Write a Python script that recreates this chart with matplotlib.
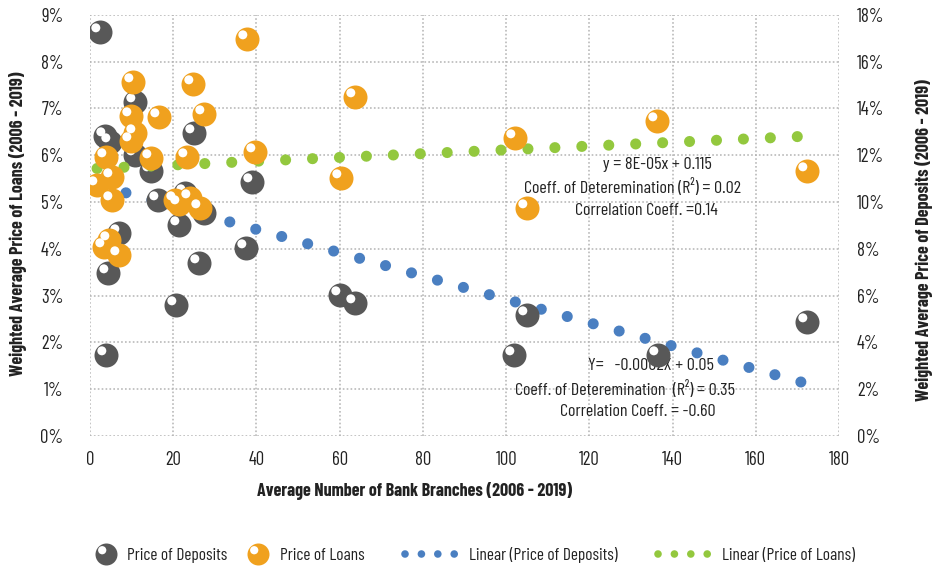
import numpy as np
import matplotlib
matplotlib.use("Agg")
import matplotlib.pyplot as plt
from matplotlib.path import Path
from matplotlib.lines import Line2D
from matplotlib.legend_handler import HandlerTuple
from matplotlib.ticker import FuncFormatter, MultipleLocator

# ------------------------------------------------------------------
# data
# ------------------------------------------------------------------
# Price of Deposits (left axis, %)
dep_x = [2.4, 10.7, 3.7, 4.9, 24.9, 10.9, 14.7, 38.9, 16.3, 22.9, 27.3, 21.3,
         6.9, 4.3, 26.1, 37.5, 20.6, 3.8, 60.2, 63.7, 104.9, 102.0, 136.4, 172.2]
dep_y = [8.64, 7.14, 6.41, 6.29, 6.48, 6.00, 5.67, 5.43, 5.04, 5.19, 4.76, 4.51,
         4.34, 3.49, 3.70, 4.01, 2.80, 1.72, 3.01, 2.85, 2.59, 1.73, 1.73, 2.44]

# Price of Loans (right axis, %)
loan_x = [37.7, 10.4, 24.8, 9.9, 16.5, 27.3, 10.7, 9.9, 3.8, 14.7, 23.3, 39.7,
          5.4, 1.7, 5.4, 20.5, 21.5, 24.1, 26.5, 4.5, 3.3, 7.0, 63.7, 102.1,
          60.3, 104.9, 136.2, 172.2]
loan_y = [16.97, 15.14, 15.04, 13.68, 13.64, 13.76, 12.94, 12.62, 11.94, 11.87,
          11.94, 12.15, 11.08, 10.73, 10.09, 10.09, 9.90, 10.16, 9.76, 8.38,
          8.09, 7.74, 14.47, 12.72, 11.01, 9.73, 13.47, 11.34]

# linear trendlines (end points as drawn in the reference)
dep_trend_x = [2.4, 172.2]
dep_trend_y = [5.35, 1.12]
loan_trend_x = [1.7, 172.2]
loan_trend_y = [11.43, 12.81]

# ------------------------------------------------------------------
# style
# ------------------------------------------------------------------
W, H, DPI = 939, 568, 100
plt.rcParams['font.family'] = ['Barlow Condensed', 'DejaVu Sans']
plt.rcParams['lines.scale_dashes'] = False

GREY = '#585858'
ORANGE = '#F0A11E'
BLUE = '#4A7FC1'
GREEN = '#93C83E'
TXT = '#222222'
GRID = '#b4b4b4'

# white highlight drawn as an off-centre marker of the same size as the ball
_c = Path.circle(center=(-0.39, 0.39), radius=0.375)
SHINE = Path(np.vstack([_c.vertices, [[1.0, 1.0]]]), np.append(_c.codes, Path.MOVETO))

BALL_S = (24 * 72 / DPI) ** 2


def px_x(x):
    return x / W


def px_y(y):
    return 1 - y / H


fig = plt.figure(figsize=(W / DPI, H / DPI), dpi=DPI)
ax = fig.add_axes([px_x(90), px_y(436), (839 - 90) / W, (436 - 14.7) / H])
ax2 = ax.twinx()

# grid
ax.set_xlim(0, 180)
ax.set_ylim(0, 9)
ax2.set_ylim(0, 18)
ax.xaxis.set_major_locator(MultipleLocator(20))
ax.yaxis.set_major_locator(MultipleLocator(1))
ax2.yaxis.set_major_locator(MultipleLocator(2))
ax.grid(True, color=GRID, linestyle=(0, (1.2, 1.6)), linewidth=1.1, zorder=0)
ax.set_axisbelow(True)
for a in (ax, ax2):
    for s in a.spines.values():
        s.set_visible(False)

# trendlines (round dots)
ax.plot(dep_trend_x, dep_trend_y, color=BLUE, lw=8, linestyle=(0, (0.01, 19.4)),
        dash_capstyle='round', zorder=2)
ax2.plot(loan_trend_x, loan_trend_y, color=GREEN, lw=8, linestyle=(0, (0.01, 19.4)),
         dash_capstyle='round', zorder=2)

# spheres
ax.scatter(dep_x, dep_y, s=BALL_S, color=GREY, linewidths=0, zorder=3)
ax.scatter(dep_x, dep_y, s=BALL_S, marker=SHINE, color='white', linewidths=0, zorder=3)
ax2.scatter(loan_x, loan_y, s=BALL_S, color=ORANGE, linewidths=0, zorder=3)
ax2.scatter(loan_x, loan_y, s=BALL_S, marker=SHINE, color='white', linewidths=0, zorder=3)

# ticks
pct = FuncFormatter(lambda v, p: f"{v:.0f}%")
ax.yaxis.set_major_formatter(pct)
ax2.yaxis.set_major_formatter(pct)
ax.tick_params(axis='y', length=0, pad=19, labelsize=13.5, labelcolor=TXT)
ax2.tick_params(axis='y', length=0, pad=13, labelsize=13.5, labelcolor=TXT)
ax.tick_params(axis='x', length=0, pad=11, labelsize=13.5, labelcolor=TXT)

# axis titles
fig.text(px_x(18), px_y(224), 'Weighted Average Price of Loans (2006 - 2019)',
         rotation=90, ha='center', va='center', fontsize=13, fontweight='bold', color=TXT)
fig.text(px_x(924), px_y(240), 'Weighted Average Price of Deposits (2006 - 2019)',
         rotation=90, ha='center', va='center', fontsize=13, fontweight='bold', color=TXT)
fig.text(px_x(415), px_y(491), 'Average Number of Bank Branches (2006 - 2019)',
         ha='center', va='center', fontsize=13, fontweight='bold', color=TXT)

# trendline equations
eq_loans = ['y = 8E-05x + 0.115',
            'Coeff. of Deteremination (R\u00b2) = 0.02',
            'Correlation Coeff. =0.14']
eq_deps = ['Y=   -0.0002X + 0.05',
           'Coeff. of Deteremination  (R\u00b2) = 0.35',
           'Correlation Coeff. = -0.60']
for txt, cx, cy in zip(eq_loans, [657, 633, 646], [164, 187, 210]):
    ax.text(px_x(cx), px_y(cy), txt, transform=fig.transFigure, ha='center',
            va='center', fontsize=13, color=TXT, zorder=2.5)
for txt, cx, cy in zip(eq_deps, [651, 625, 638], [365, 389, 412]):
    ax.text(px_x(cx), px_y(cy), txt, transform=fig.transFigure, ha='center',
            va='center', fontsize=13, color=TXT, zorder=2.5)

# legend: four single entries placed like the reference
LEG_FS = 12.5
fs_px = LEG_FS * DPI / 72
ball_ms = 22 * 72 / DPI
h_dep = (Line2D([], [], ls='', marker='o', ms=ball_ms, mfc=GREY, mew=0),
         Line2D([], [], ls='', marker=SHINE, ms=ball_ms, mfc='white', mew=0))
h_loan = (Line2D([], [], ls='', marker='o', ms=ball_ms, mfc=ORANGE, mew=0),
          Line2D([], [], ls='', marker=SHINE, ms=ball_ms, mfc='white', mew=0))
h_tdep = Line2D([], [], color=BLUE, lw=5.5, linestyle=(0, (0.01, 11.8)), dash_capstyle='round')
h_tloan = Line2D([], [], color=GREEN, lw=5.5, linestyle=(0, (0.01, 11.8)), dash_capstyle='round')

items = [(h_dep, 'Price of Deposits', 94.7, 22, 10),
         (h_loan, 'Price of Loans', 247, 22, 11),
         (h_tdep, 'Linear (Price of Deposits)', 405, 49.5, 14.5),
         (h_tloan, 'Linear (Price of Loans)', 658, 49.5, 15)]
for handle, label, x0, hl, pad in items:
    fig.legend([handle], [label], loc='center left',
               bbox_to_anchor=(px_x(x0), px_y(555)), frameon=False,
               borderpad=0, borderaxespad=0, fontsize=LEG_FS,
               handlelength=hl / fs_px, handletextpad=pad / fs_px,
               labelcolor=TXT, handler_map={tuple: HandlerTuple(ndivide=1)})

fig.savefig('out.png', dpi=DPI)
